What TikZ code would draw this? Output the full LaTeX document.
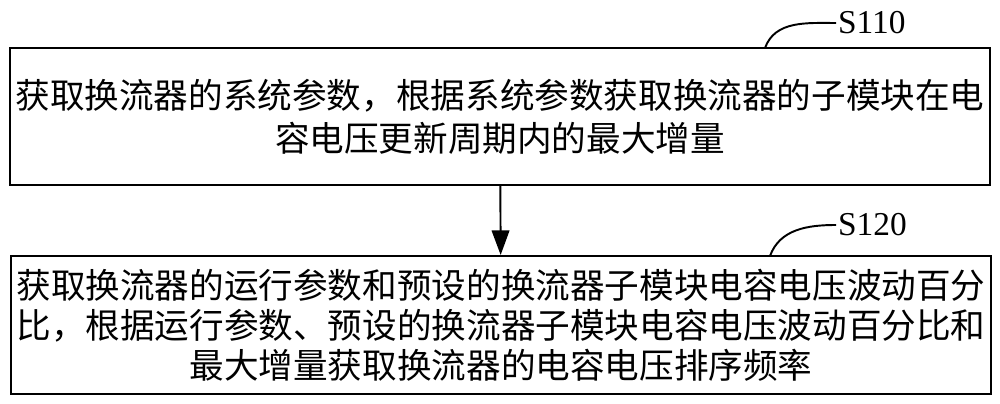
\documentclass[tikz,border=0pt]{standalone}
\usepackage{fontspec}
\setmainfont{Liberation Serif}
\newfontfamily\cjk{Noto Sans CJK SC}
\usetikzlibrary{arrows.meta, positioning}

\begin{document}
\begin{tikzpicture}[x=0.02cm, y=-0.02cm]
  \tikzset{
    stepbox/.style={
      rectangle, draw, line width=1.1pt,
      minimum width=19.62cm, minimum height=2.74cm,
      align=center, inner sep=0pt,
      font=\cjk\fontsize{19.7}{24.5}\selectfont
    },
    steplabel/.style={font=\fontsize{19}{22}\selectfont, inner sep=1pt, anchor=west}
  }
  \useasboundingbox (0,0) rectangle (1000,404);
  % the two steps
  \node[stepbox] (b1) at (500,116.5)
    {获取换流器的系统参数，根据系统参数获取换流器的子模块在电\\容电压更新周期内的最大增量};
  \node[stepbox, minimum height=2.76cm, font=\cjk\fontsize{19.7}{22.7}\selectfont] (b2) at (501,325)
    {获取换流器的运行参数和预设的换流器子模块电容电压波动百分\\比，根据运行参数、预设的换流器子模块电容电压波动百分比和\\最大增量获取换流器的电容电压排序频率};
  % step labels
  \node[steplabel] (l1) at (836,23) {S110};
  \node[steplabel] (l2) at (836,225) {S120};
  \coordinate (c1) at (765,48);
  \coordinate (c2) at (770,256);
  \foreach \c/\l in {c1/l1, c2/l2}{
    \draw[line width=1.1pt] (\c) to[out=70, in=180] (\l.west);
  }
  % flow
  \draw[-{Triangle[length=14pt, width=10pt]}, line width=1.1pt] (b1) -- (b2);
\end{tikzpicture}
\end{document}
